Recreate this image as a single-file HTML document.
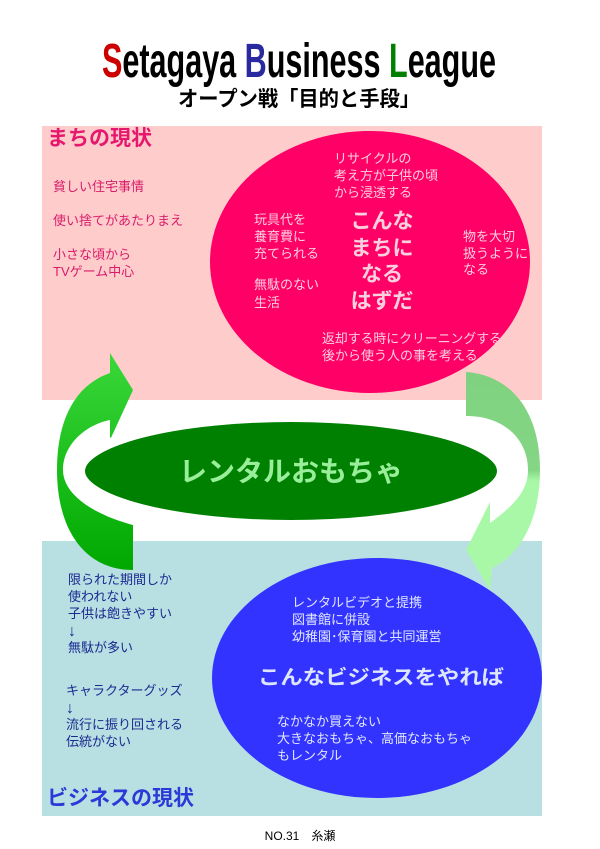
<!DOCTYPE html>
<html><head><meta charset="utf-8"><style>
html,body{margin:0;padding:0;background:#fff;}
svg{display:block;}
text{font-family:"Liberation Sans","Noto Sans CJK JP",sans-serif;}
</style></head><body>
<svg width="600" height="849" viewBox="0 0 600 849" xmlns="http://www.w3.org/2000/svg">
<defs>
<linearGradient id="lg" x1="0" y1="0" x2="0" y2="1"><stop offset="0" stop-color="#3ad83a"/><stop offset="1" stop-color="#00a800"/></linearGradient>
<linearGradient id="rg" x1="0" y1="0" x2="0" y2="1"><stop offset="0" stop-color="#7fd27f"/><stop offset="0.45" stop-color="#84d684"/><stop offset="0.5" stop-color="#a8f8a8"/><stop offset="1" stop-color="#a8f8a8"/></linearGradient>
</defs>
<text x="102" y="77" font-size="48" font-weight="bold" textLength="394" lengthAdjust="spacingAndGlyphs" fill="#000"><tspan fill="#cc0000">S</tspan>etagaya <tspan fill="#2a2aa0">B</tspan>usiness <tspan fill="#008000">L</tspan>eague</text>
<text x="178" y="106" font-size="21" font-weight="bold" textLength="242" lengthAdjust="spacingAndGlyphs">オープン戦「目的と手段」</text>

<rect x="42" y="126" width="500" height="274" fill="#ffcccc"/>
<rect x="42" y="541" width="500" height="275" fill="#b8dfe2"/>

<ellipse cx="370" cy="262" rx="160" ry="131" fill="#ff0066"/>
<ellipse cx="377" cy="678" rx="165" ry="120" fill="#3333ff"/>

<path d="M110,373 C75,385 57,420 57,470 C57,530 85,570 133,570 L133,525 C95,515 63,495 63,470 C63,445 85,425 110,420 L110,440 L133,390 L110,353 Z" fill="url(#lg)"/>
<path d="M466,372 C510,375 540,410 540,470 C540,520 520,555 492,568 L490,590 L466,550 L490,502 L490,523 C515,505 528,490 528,470 C528,440 505,416 466,416 Z" fill="url(#rg)"/>

<ellipse cx="291" cy="471" rx="211" ry="54" fill="#008000" stroke="#fff" stroke-width="10"/>
<text x="291" y="481" font-size="28" font-weight="bold" fill="#99ee99" text-anchor="middle">レンタルおもちゃ</text>

<text x="47" y="145" font-size="21" font-weight="bold" fill="#e6186e">まちの現状</text>
<g font-size="13" fill="#d81c6a">
<text x="53" y="191">貧しい住宅事情</text>
<text x="53" y="225">使い捨てがあたりまえ</text>
<text x="53" y="259">小さな頃から</text>
<text x="53" y="276">TVゲーム中心</text>
</g>

<g font-size="13" fill="#fbd0de">
<text x="334" y="163">リサイクルの</text>
<text x="334" y="180">考え方が子供の頃</text>
<text x="334" y="197">から浸透する</text>
<text x="254" y="224">玩具代を</text>
<text x="254" y="241">養育費に</text>
<text x="254" y="258">充てられる</text>
<text x="254" y="289">無駄のない</text>
<text x="254" y="307">生活</text>
<text x="463" y="241">物を大切</text>
<text x="463" y="258">扱うように</text>
<text x="463" y="274">なる</text>
<text x="322" y="343" textLength="180" lengthAdjust="spacingAndGlyphs">返却する時にクリーニングする</text>
<text x="322" y="360">後から使う人の事を考える</text>
</g>
<g font-size="21" font-weight="bold" fill="#fbd0de" text-anchor="middle">
<text x="382" y="228">こんな</text>
<text x="382" y="255">まちに</text>
<text x="382" y="281">なる</text>
<text x="382" y="308">はずだ</text>
</g>

<g font-size="13" fill="#1a2a90">
<text x="68" y="584">限られた期間しか</text>
<text x="68" y="601">使われない</text>
<text x="68" y="618">子供は飽きやすい</text>
<text x="68" y="636" font-size="16">↓</text>
<text x="68" y="652">無駄が多い</text>
<text x="66" y="695">キャラクターグッズ</text>
<text x="66" y="713" font-size="16">↓</text>
<text x="66" y="729">流行に振り回される</text>
<text x="66" y="746">伝統がない</text>
</g>
<g font-size="13" fill="#e0e8ff">
<text x="292" y="607">レンタルビデオと提携</text>
<text x="292" y="624">図書館に併設</text>
<text x="292" y="641">幼稚園･保育園と共同運営</text>
<text x="277" y="726">なかなか買えない</text>
<text x="277" y="743">大きなおもちゃ、高価なおもちゃ</text>
<text x="277" y="760">もレンタル</text>
</g>
<text x="258" y="684" font-size="20" font-weight="bold" fill="#dde6ff" textLength="246" lengthAdjust="spacingAndGlyphs">こんなビジネスをやれば</text>
<text x="47" y="805" font-size="21" font-weight="bold" fill="#2a3ad8">ビジネスの現状</text>

<text x="300" y="840" font-size="12" fill="#000" text-anchor="middle">NO.31　糸瀬</text>
</svg>
</body></html>
